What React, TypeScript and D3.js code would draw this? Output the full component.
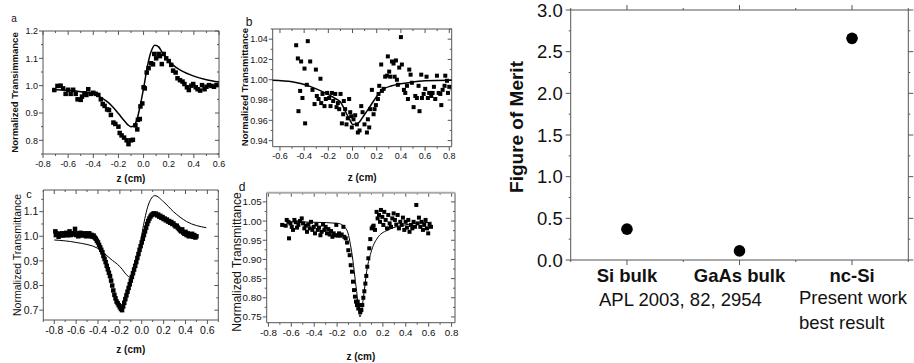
import * as d3 from 'd3';

type Pt = [number, number];

// panel a: z-scan, points + fit
const aPoints: Pt[] = [
  [-0.71, 0.984], [-0.685, 0.999], [-0.66, 1.0], [-0.64, 0.99], [-0.62, 0.97], [-0.6, 0.985],
  [-0.58, 0.97], [-0.56, 0.985], [-0.54, 0.97], [-0.525, 0.95], [-0.5, 0.948], [-0.49, 0.96],
  [-0.47, 0.972], [-0.455, 0.966], [-0.44, 0.987], [-0.42, 0.97], [-0.4, 0.974], [-0.38, 0.97],
  [-0.36, 0.966], [-0.34, 0.95], [-0.325, 0.933], [-0.31, 0.926], [-0.29, 0.913], [-0.275, 0.911],
  [-0.26, 0.893], [-0.24, 0.865], [-0.225, 0.86], [-0.2, 0.85], [-0.19, 0.827], [-0.175, 0.818],
  [-0.155, 0.81], [-0.135, 0.8], [-0.12, 0.786], [-0.1, 0.8], [-0.085, 0.802], [-0.065, 0.855],
  [-0.05, 0.84], [-0.045, 0.875], [-0.03, 0.878], [-0.025, 0.924], [-0.01, 0.935], [0.0, 0.994],
  [0.01, 0.99], [0.025, 1.048], [0.04, 1.064], [0.06, 1.082], [0.075, 1.078], [0.085, 1.116],
  [0.1, 1.1], [0.12, 1.116], [0.13, 1.108], [0.145, 1.079], [0.16, 1.116], [0.18, 1.1],
  [0.2, 1.09], [0.22, 1.076], [0.235, 1.055], [0.255, 1.048], [0.27, 1.027], [0.29, 1.02],
  [0.31, 1.015], [0.325, 1.006], [0.345, 0.994], [0.36, 0.984], [0.38, 1.0], [0.395, 1.006],
  [0.415, 0.994], [0.43, 0.987], [0.45, 0.982], [0.465, 1.002], [0.485, 0.987], [0.5, 0.996],
  [0.52, 1.002], [0.54, 0.999], [0.56, 0.996], [0.58, 1.002],
];
const aFit: Pt[] = [
  [-0.7, 0.985], [-0.6, 0.983], [-0.5, 0.978], [-0.4, 0.97], [-0.35, 0.96], [-0.3, 0.945],
  [-0.25, 0.925], [-0.2, 0.898], [-0.15, 0.87], [-0.12, 0.855], [-0.1, 0.85], [-0.08, 0.853],
  [-0.05, 0.88], [-0.03, 0.92], [0.0, 0.99], [0.03, 1.07], [0.06, 1.125], [0.09, 1.148],
  [0.12, 1.142], [0.15, 1.12], [0.2, 1.09], [0.25, 1.07], [0.3, 1.055], [0.4, 1.035],
  [0.5, 1.022], [0.6, 1.013],
];

// panel b
const bPoints: Pt[] = [
  [-0.466, 1.034], [-0.452, 1.021], [-0.447, 0.969], [-0.433, 0.989], [-0.425, 1.018], [-0.414, 0.982],
  [-0.397, 1.011], [-0.392, 0.957], [-0.378, 0.995], [-0.37, 1.038], [-0.35, 1.018], [-0.331, 0.99],
  [-0.314, 0.976], [-0.303, 1.01], [-0.295, 0.984], [-0.281, 0.981], [-0.265, 1.001], [-0.259, 0.977],
  [-0.248, 0.986], [-0.232, 0.974], [-0.221, 0.981], [-0.21, 0.987], [-0.193, 0.982], [-0.182, 0.974],
  [-0.171, 0.987], [-0.16, 0.979], [-0.143, 0.986], [-0.132, 0.973], [-0.121, 0.977], [-0.11, 0.971],
  [-0.099, 0.986], [-0.088, 0.957], [-0.077, 0.966], [-0.072, 0.979], [-0.061, 0.971], [-0.05, 0.956],
  [-0.039, 0.962], [-0.028, 0.981], [-0.019, 0.968], [-0.011, 0.964], [-0.006, 0.953], [0.008, 0.961],
  [0.022, 0.965], [0.036, 0.956], [0.044, 0.948], [0.058, 0.95], [0.072, 0.974], [0.083, 0.968],
  [0.099, 0.956], [0.119, 0.948], [0.127, 0.961], [0.138, 0.953], [0.146, 0.971], [0.16, 0.99],
  [0.174, 0.966], [0.182, 0.971], [0.193, 0.975], [0.21, 0.981], [0.215, 0.986], [0.221, 0.994],
  [0.237, 1.015], [0.243, 0.989], [0.257, 0.991], [0.27, 1.003], [0.284, 1.004], [0.292, 1.023],
  [0.303, 1.008], [0.312, 1.003], [0.326, 1.018], [0.339, 1.016], [0.348, 1.003], [0.359, 1.019],
  [0.367, 1.0], [0.375, 0.995], [0.386, 1.012], [0.4, 1.042], [0.408, 1.015], [0.425, 0.99],
  [0.436, 0.987], [0.45, 0.994], [0.458, 0.981], [0.469, 1.01], [0.48, 1.005], [0.491, 0.997],
  [0.505, 0.973], [0.519, 0.984], [0.532, 0.982], [0.546, 0.994], [0.554, 0.969], [0.568, 1.005],
  [0.574, 0.982], [0.588, 0.986], [0.601, 0.991], [0.612, 1.003], [0.623, 0.982], [0.634, 0.987],
  [0.651, 0.984], [0.662, 0.987], [0.673, 0.993], [0.684, 0.981], [0.698, 1.004], [0.712, 0.987],
  [0.726, 0.986], [0.734, 0.975], [0.745, 0.99], [0.761, 0.994], [0.767, 1.004], [0.781, 0.999],
  [0.789, 0.987], [0.8, 0.993],
];
const bFit: Pt[] = [
  [-0.66, 0.9995], [-0.5, 0.998], [-0.42, 0.996], [-0.3, 0.991], [-0.226, 0.987], [-0.15, 0.982],
  [-0.1, 0.978], [-0.047, 0.966], [-0.02, 0.96], [0.0, 0.956], [0.044, 0.957], [0.09, 0.964],
  [0.13, 0.971], [0.18, 0.98], [0.215, 0.986], [0.26, 0.991], [0.326, 0.994], [0.46, 0.997],
  [0.6, 0.999], [0.82, 0.9995],
];

// panel c
const cPoints: Pt[] = [
  [-0.79, 1.02], [-0.785, 1.005], [-0.78, 1.012], [-0.77, 1.008], [-0.76, 0.998], [-0.75, 1.01],
  [-0.74, 1.005], [-0.73, 1.012], [-0.72, 1.003], [-0.71, 1.01], [-0.7, 1.006], [-0.69, 1.014],
  [-0.68, 1.004], [-0.67, 1.01], [-0.66, 1.02], [-0.65, 1.005], [-0.64, 1.012], [-0.63, 1.008],
  [-0.62, 1.012], [-0.61, 1.03], [-0.6, 1.005], [-0.59, 1.012], [-0.58, 1.0], [-0.57, 1.008],
  [-0.56, 1.014], [-0.55, 1.003], [-0.54, 1.01], [-0.53, 1.006], [-0.52, 1.012], [-0.51, 1.0],
  [-0.5, 1.01], [-0.49, 1.005], [-0.48, 1.012], [-0.47, 1.0], [-0.46, 1.006], [-0.45, 0.998],
  [-0.44, 1.003], [-0.43, 0.995], [-0.42, 0.99], [-0.41, 0.982], [-0.4, 0.975], [-0.39, 0.965],
  [-0.38, 0.955], [-0.37, 0.945], [-0.36, 0.935], [-0.35, 0.92], [-0.34, 0.908], [-0.33, 0.895],
  [-0.32, 0.88], [-0.31, 0.866], [-0.3, 0.852], [-0.29, 0.838], [-0.28, 0.82], [-0.27, 0.8],
  [-0.26, 0.78], [-0.25, 0.762], [-0.24, 0.748], [-0.23, 0.735], [-0.22, 0.728], [-0.21, 0.72],
  [-0.2, 0.712], [-0.19, 0.705], [-0.18, 0.7], [-0.17, 0.715], [-0.16, 0.73], [-0.15, 0.745],
  [-0.14, 0.76], [-0.13, 0.775], [-0.12, 0.79], [-0.11, 0.805], [-0.1, 0.82], [-0.09, 0.835],
  [-0.08, 0.85], [-0.07, 0.865], [-0.06, 0.88], [-0.05, 0.895], [-0.04, 0.912], [-0.03, 0.928],
  [-0.02, 0.945], [-0.01, 0.96], [0.0, 0.975], [0.01, 0.99], [0.02, 1.005], [0.03, 1.02],
  [0.04, 1.035], [0.05, 1.05], [0.06, 1.062], [0.07, 1.072], [0.08, 1.08], [0.09, 1.086],
  [0.1, 1.09], [0.11, 1.093], [0.12, 1.09], [0.13, 1.092], [0.14, 1.085], [0.15, 1.088],
  [0.16, 1.08], [0.17, 1.083], [0.18, 1.075], [0.19, 1.078], [0.2, 1.07], [0.21, 1.072],
  [0.22, 1.065], [0.23, 1.068], [0.24, 1.06], [0.25, 1.062], [0.26, 1.055], [0.27, 1.058],
  [0.28, 1.05], [0.29, 1.052], [0.3, 1.045], [0.31, 1.04], [0.32, 1.043], [0.33, 1.035],
  [0.34, 1.03], [0.35, 1.025], [0.36, 1.02], [0.37, 1.028], [0.38, 1.015], [0.39, 1.01],
  [0.4, 1.018], [0.41, 1.005], [0.42, 1.012], [0.43, 1.0], [0.44, 1.008], [0.45, 1.002],
  [0.46, 1.01], [0.47, 0.998], [0.48, 1.005], [0.49, 0.995], [0.5, 1.0],
];
const cFit: Pt[] = [
  [-0.8, 0.985], [-0.6, 0.975], [-0.4, 0.951], [-0.29, 0.91], [-0.2, 0.877], [-0.12, 0.836],
  [-0.1, 0.832], [-0.08, 0.843], [-0.05, 0.884], [-0.02, 0.95], [0.01, 1.03], [0.06, 1.127],
  [0.12, 1.165], [0.2, 1.14], [0.29, 1.1], [0.41, 1.06], [0.59, 1.035],
];

// panel d
const dPoints: Pt[] = [
  [-0.68, 0.99], [-0.649, 0.988], [-0.64, 1.003], [-0.625, 0.998], [-0.62, 0.955], [-0.608, 0.994],
  [-0.596, 0.985], [-0.585, 0.977], [-0.573, 1.003], [-0.561, 0.997], [-0.55, 0.983], [-0.538, 0.99],
  [-0.524, 1.0], [-0.509, 1.007], [-0.497, 0.994], [-0.486, 0.981], [-0.474, 0.988], [-0.463, 0.972],
  [-0.451, 0.991], [-0.439, 0.981], [-0.428, 0.998], [-0.416, 0.977], [-0.404, 0.985], [-0.393, 0.968],
  [-0.381, 0.991], [-0.369, 0.977], [-0.358, 0.983], [-0.346, 0.963], [-0.335, 0.972], [-0.323, 0.991],
  [-0.311, 0.977], [-0.3, 0.985], [-0.288, 0.968], [-0.276, 0.979], [-0.265, 0.965], [-0.253, 0.974],
  [-0.241, 0.959], [-0.23, 0.968], [-0.218, 0.963], [-0.207, 0.99], [-0.195, 0.962], [-0.183, 0.968],
  [-0.172, 0.962], [-0.16, 0.965], [-0.145, 0.985], [-0.137, 0.959], [-0.125, 0.955], [-0.113, 0.944],
  [-0.102, 0.924], [-0.09, 0.911], [-0.081, 0.885], [-0.07, 0.868], [-0.061, 0.842], [-0.052, 0.82],
  [-0.044, 0.803], [-0.035, 0.79], [-0.026, 0.781], [-0.02, 0.79], [-0.015, 0.772], [-0.006, 0.781],
  [0.003, 0.763], [0.012, 0.768], [0.02, 0.781], [0.029, 0.8], [0.038, 0.817], [0.047, 0.837],
  [0.055, 0.857], [0.064, 0.881], [0.073, 0.903], [0.081, 0.929], [0.09, 0.953], [0.102, 0.981],
  [0.111, 0.985], [0.119, 0.988], [0.131, 0.977], [0.145, 1.024], [0.154, 1.007], [0.166, 1.016],
  [0.175, 0.998], [0.183, 1.029], [0.195, 1.011], [0.204, 0.99], [0.212, 1.024], [0.224, 1.003],
  [0.236, 0.981], [0.247, 1.016], [0.259, 0.994], [0.271, 0.985], [0.282, 1.007], [0.294, 1.02],
  [0.305, 1.003], [0.317, 0.991], [0.329, 1.016], [0.34, 0.981], [0.352, 0.998], [0.364, 0.99],
  [0.375, 1.009], [0.387, 0.977], [0.399, 0.998], [0.41, 0.983], [0.422, 1.003], [0.433, 0.972],
  [0.445, 0.99], [0.457, 0.981], [0.468, 0.998], [0.48, 0.985], [0.492, 1.042], [0.503, 0.994],
  [0.515, 1.009], [0.527, 0.985], [0.538, 0.998], [0.55, 0.977], [0.561, 0.99], [0.573, 1.003],
  [0.585, 0.981], [0.596, 0.968], [0.608, 0.991], [0.62, 0.985],
];
const dFit: Pt[] = [
  [-0.64, 0.998], [-0.4, 0.997], [-0.19, 0.994], [-0.116, 0.977], [-0.073, 0.92], [-0.029, 0.816],
  [0.0, 0.75], [0.029, 0.798], [0.058, 0.868], [0.102, 0.924], [0.16, 0.959], [0.247, 0.977],
  [0.393, 0.99], [0.625, 0.997],
];

// figure of merit
const meritCategories = ['Si bulk', 'GaAs bulk', 'nc-Si'];
const meritValues = [0.37, 0.11, 2.66];
const meritTicks = [0, 0.5, 1.0, 1.5, 2.0, 2.5, 3.0];

const FONT = 'Arial, "Liberation Sans", sans-serif';
const FRAME = '#555';

function steps(a: number, b: number, s: number) {
  return d3.range(Math.round((b - a) / s) + 1).map((i) => Math.round((a + i * s) * 10000) / 10000);
}
const fmt = (v: number, d: number) => (Math.abs(v) < 1e-9 ? 0 : v).toFixed(d);

type PanelProps = {
  points: Pt[];
  fit: Pt[];
  box: [number, number, number, number]; // left, right, top, bottom
  xDomain: [number, number];
  yDomain: [number, number];
  xTicks: [number, number, number];
  yTicks: [number, number, number];
  yDigits: number;
  tickFont: number;
  yTitle: string;
  yTitleX: number;
  yTitleY?: number;
  yTitleBold: boolean;
  titleFont: number;
  xTitleY: number;
  letter: string;
  letterPos: [number, number];
  letterFont: number;
  marker: number;
  fitWidth: number;
  topStroke?: string;
};

function ZPanel(p: PanelProps) {
  const [l, r, t, b] = p.box;
  const x = d3.scaleLinear().domain(p.xDomain).range([l, r]);
  const y = d3.scaleLinear().domain(p.yDomain).range([b, t]);
  const line = d3.line<Pt>().x((d) => x(d[0])).y((d) => y(d[1])).curve(d3.curveMonotoneX);

  const xMajor = steps(...p.xTicks);
  const yMajor = steps(...p.yTicks);
  const inX = (v: number) => v >= p.xDomain[0] - 1e-6 && v <= p.xDomain[1] + 1e-6;
  const inY = (v: number) => v >= p.yDomain[0] - 1e-6 && v <= p.yDomain[1] + 1e-6;
  const xMinor = steps(p.xTicks[0] - p.xTicks[2], p.xTicks[1] + p.xTicks[2], p.xTicks[2] / 2).filter(inX);
  const yMinor = steps(p.yTicks[0] - p.yTicks[2], p.yTicks[1] + p.yTicks[2], p.yTicks[2] / 2).filter(inY);
  const isMajor = (v: number, arr: number[]) => arr.some((m) => Math.abs(m - v) < 1e-6);

  const cx = (l + r) / 2;
  const cy = p.yTitleY ?? (t + b) / 2;
  const s = p.marker;

  return (
    <g fontFamily={FONT}>
      {/* ticks: outward on bottom/left, mirrored inward on top/right */}
      {xMinor.map((v) => {
        const len = isMajor(v, xMajor) ? 4 : 2;
        return (
          <g key={'x' + v} stroke={FRAME} strokeWidth={1}>
            <line x1={x(v)} x2={x(v)} y1={b} y2={b + len} />
            <line x1={x(v)} x2={x(v)} y1={t} y2={t + len} />
          </g>
        );
      })}
      {yMinor.map((v) => {
        const len = isMajor(v, yMajor) ? 4 : 2;
        return (
          <g key={'y' + v} stroke={FRAME} strokeWidth={1}>
            <line x1={l - len} x2={l} y1={y(v)} y2={y(v)} />
            <line x1={r - len} x2={r} y1={y(v)} y2={y(v)} />
          </g>
        );
      })}
      <line x1={l} x2={r} y1={b} y2={b} stroke={FRAME} />
      <line x1={l} x2={l} y1={t} y2={b} stroke={FRAME} />
      <line x1={r} x2={r} y1={t} y2={b} stroke={FRAME} />
      <line x1={l} x2={r} y1={t} y2={t} stroke={p.topStroke ?? FRAME} strokeWidth={p.topStroke ? 2 : 1} />

      {xMajor.map((v) => (
        <text key={'xl' + v} x={x(v)} y={b + 6 + p.tickFont * 0.75} fontSize={p.tickFont} textAnchor="middle" fill="#111">
          {fmt(v, 1)}
        </text>
      ))}
      {yMajor.map((v) => (
        <text key={'yl' + v} x={l - 5} y={y(v) + p.tickFont * 0.36} fontSize={p.tickFont} textAnchor="end" fill="#111">
          {fmt(v, p.yDigits)}
        </text>
      ))}

      <path d={line(p.fit) ?? ''} fill="none" stroke="#000" strokeWidth={p.fitWidth} />
      {p.points.map((d, i) => (
        <rect key={i} x={x(d[0]) - s / 2} y={y(d[1]) - s / 2} width={s} height={s} fill="#000" />
      ))}

      <text
        transform={`translate(${p.yTitleX},${cy}) rotate(-90)`}
        fontSize={p.titleFont}
        fontWeight={p.yTitleBold ? 'bold' : 'normal'}
        textAnchor="middle"
        fill="#111"
      >
        {p.yTitle}
      </text>
      <text x={cx} y={p.xTitleY} fontSize={10} fontWeight="bold" textAnchor="middle" fill="#111">
        z (cm)
      </text>
      <text x={p.letterPos[0]} y={p.letterPos[1]} fontSize={p.letterFont} textAnchor="middle" fill="#111">
        {p.letter}
      </text>
    </g>
  );
}

function MeritPanel() {
  const l = 570.7, r = 908.3, t = 10, b = 260;
  const x = d3.scaleLinear().domain([0.5, 3.5]).range([l, r]);
  const y = d3.scaleLinear().domain([0, 3]).range([b, t]);
  const xTicks = steps(0.5, 3.5, 0.5);
  const yTicks = steps(0, 3, 0.25);
  return (
    <g fontFamily={FONT} fill="#111">
      <rect x={l} y={t} width={r - l} height={b - t} fill="none" stroke={FRAME} />
      {xTicks.map((v) => {
        const len = Number.isInteger(v) ? 5 : 2;
        return (
          <g key={'x' + v} stroke={FRAME}>
            <line x1={x(v)} x2={x(v)} y1={b} y2={b + len} />
            <line x1={x(v)} x2={x(v)} y1={t} y2={t - len} />
          </g>
        );
      })}
      {yTicks.map((v) => {
        const len = Math.abs(v * 2 - Math.round(v * 2)) < 1e-6 ? 5 : 2;
        return (
          <g key={'y' + v} stroke={FRAME}>
            <line x1={l - len} x2={l} y1={y(v)} y2={y(v)} />
            <line x1={r} x2={r + len} y1={y(v)} y2={y(v)} />
          </g>
        );
      })}
      {meritTicks.map((v) => (
        <text key={'yl' + v} x={l - 8} y={y(v) + 6.5} fontSize={18.5} textAnchor="end">
          {v.toFixed(1)}
        </text>
      ))}
      {meritValues.map((v, i) => (
        <circle key={i} cx={x(i + 1)} cy={y(v)} r={5.8} fill="#000" />
      ))}
      {meritCategories.map((c, i) => (
        <text key={c} x={x(i + 1)} y={282} fontSize={18.5} fontWeight="bold" textAnchor="middle">
          {c}
        </text>
      ))}
      <text x={599} y={306} fontSize={18.5}>APL 2003, 82, 2954</text>
      <text x={799} y={304} fontSize={18.5}>Present work</text>
      <text x={799} y={329} fontSize={18.5}>best result</text>
      <text transform={`translate(523,${(t + b) / 2 - 8}) rotate(-90)`} fontSize={19} fontWeight="bold" textAnchor="middle">
        Figure of Merit
      </text>
    </g>
  );
}

export default function App() {
  return (
    <svg width={914} height={363} style={{ position: 'absolute', left: 0, top: 0, background: '#fff' }}>
      <ZPanel
        points={aPoints}
        fit={aFit}
        box={[43, 219, 31, 154]}
        xDomain={[-0.8, 0.6]}
        yDomain={[0.75, 1.2]}
        xTicks={[-0.8, 0.6, 0.2]}
        yTicks={[0.8, 1.2, 0.1]}
        yDigits={1}
        tickFont={9}
        yTitle="Normalized Transimmance"
        yTitleX={18}
        yTitleBold
        titleFont={9.5}
        xTitleY={182}
        letter="a"
        letterPos={[14, 22]}
        letterFont={10}
        marker={4.5}
        fitWidth={1.5}
      />
      <ZPanel
        points={bPoints}
        fit={bFit}
        box={[272.7, 451.7, 29, 146.7]}
        xDomain={[-0.66, 0.82]}
        yDomain={[0.934, 1.05]}
        xTicks={[-0.6, 0.8, 0.2]}
        yTicks={[0.94, 1.04, 0.02]}
        yDigits={2}
        tickFont={9}
        yTitle="Normalized Transmittance"
        yTitleX={248}
        yTitleY={87}
        yTitleBold
        titleFont={9.5}
        xTitleY={181}
        letter="b"
        letterPos={[249, 26]}
        letterFont={12}
        marker={4}
        fitWidth={1.5}
      />
      <ZPanel
        points={cPoints}
        fit={cFit}
        box={[43.3, 218.3, 190, 320]}
        xDomain={[-0.9, 0.7]}
        yDomain={[0.66, 1.188]}
        xTicks={[-0.8, 0.6, 0.2]}
        yTicks={[0.7, 1.1, 0.1]}
        yDigits={1}
        tickFont={10.5}
        yTitle="Normalized Transmittance"
        yTitleX={21}
        yTitleBold={false}
        titleFont={10.5}
        xTitleY={353}
        letter="c"
        letterPos={[29, 198]}
        letterFont={11}
        marker={4.5}
        fitWidth={1}
      />
      <ZPanel
        points={dPoints}
        fit={dFit}
        box={[266.7, 455, 192.7, 322.7]}
        xDomain={[-0.815, 0.83]}
        yDomain={[0.735, 1.074]}
        xTicks={[-0.8, 0.8, 0.2]}
        yTicks={[0.75, 1.05, 0.05]}
        yDigits={2}
        tickFont={9.8}
        yTitle="Normalized Transmittance"
        yTitleX={240.5}
        yTitleY={262}
        yTitleBold={false}
        titleFont={12}
        xTitleY={360}
        letter="d"
        letterPos={[242, 191]}
        letterFont={12}
        marker={4}
        fitWidth={1}
        topStroke="#aaa"
      />
      <MeritPanel />
    </svg>
  );
}
